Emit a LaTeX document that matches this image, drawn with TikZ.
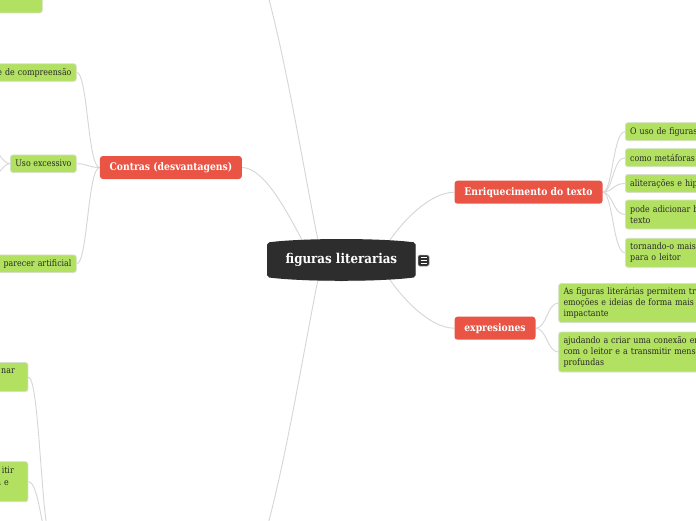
\documentclass[tikz,border=0pt]{standalone}
\usepackage{fontspec}
\newfontfamily\slabfont[FakeStretch=0.88]{DejaVu Serif}
\usetikzlibrary{calc, backgrounds}

\definecolor{hubgray}{RGB}{45,45,45}
\definecolor{branchred}{RGB}{233,84,68}
\definecolor{leafgreen}{RGB}{178,225,98}
\definecolor{leafedge}{RGB}{214,224,200}
\definecolor{leaftext}{RGB}{40,40,40}
\definecolor{linkgray}{RGB}{214,214,214}

\begin{document}
\begin{tikzpicture}[
    x=1pt, y=-1pt,
    hub_block/.style={rectangle, minimum width=148, minimum height=34.3, inner sep=0, text=white, font={\slabfont\bfseries\fontsize{13.5}{16}\selectfont}},
    branch_block/.style={rectangle, fill=branchred, rounded corners=3, minimum height=23, inner xsep=7.5, inner ysep=0, text=white, font={\slabfont\bfseries\fontsize{10.5}{12}\selectfont}},
    leaf_block/.style={rectangle, fill=leafgreen, draw=leafedge, line width=0.8, rounded corners=2.5, minimum height=17.5, inner xsep=4.8, inner ysep=0, text=leaftext, font={\slabfont\fontsize{9}{11.2}\selectfont}},
    icon_block/.style={rectangle, fill=hubgray, draw=black!40, line width=0.5, rounded corners=1.5, minimum size=11, inner sep=0},
    link_line/.style={draw=linkgray, line width=0.9}
]
\useasboundingbox (0,0) rectangle (696,520);
\clip (0,0) rectangle (696,520);

% Centre: figuras literarias
\node[hub_block] (hub) at (341.4,259.9) {figuras literarias};
\node[icon_block] (hub_icon) at (423.5,260.5) {};
\foreach \dy in {-2.6,0,2.6}
    \draw[white, line width=0.9] ([shift={(-3,\dy)}]hub_icon.center) -- ([shift={(3,\dy)}]hub_icon.center);

% Branches
\node[branch_block, minimum width=142] (contras) at (170.9,167.5) {Contras (desvantagens)};
\node[branch_block, minimum width=148] (enrich) at (528.5,192.2) {Enriquecimento do texto};
\node[branch_block, minimum width=81] (expr) at (495,328.2) {expresiones};

% Branches that lie outside the frame
\coordinate (top_branch) at (215,-120);
\coordinate (low_branch) at (215,640);
\coordinate (low_parent) at (53,545);

% Right: leaves of Enriquecimento do texto
\node[leaf_block, anchor=west, text width=150, align=left, minimum height=18] (enr_a) at (625,131.7) {O uso de figuras};
\node[leaf_block, anchor=west, text width=150, align=left, minimum height=18] (enr_b) at (625,157.7) {como metáforas};
\node[leaf_block, anchor=west, text width=150, align=left, minimum height=18] (enr_c) at (625,183.5) {aliterações e hip};
\node[leaf_block, anchor=west, text width=150, align=left, minimum height=29] (enr_d) at (625,214.5) {pode adicionar b\\texto};
\node[leaf_block, anchor=west, text width=150, align=left, minimum height=29] (enr_e) at (625,252.8) {tornando-o mais\\para o leitor};

% Right: leaves of expresiones
\node[leaf_block, anchor=west, text width=180, align=left, minimum height=39] (expr_a) at (558.3,303) {As figuras literárias permitem tra\\emoções e ideias de forma mais v\\impactante};
\node[leaf_block, anchor=west, text width=180, align=left, minimum height=40] (expr_b) at (558.3,352) {ajudando a criar uma conexão em\\com o leitor e a transmitir mensa\\profundas};

% Left: leaves of Contras
\node[leaf_block, anchor=east, text width=110, align=right] (comp_leaf) at (76.7,72.5) {e de compreensão};
\node[leaf_block, anchor=east] (uso_leaf) at (76.7,163.7) {Uso excessivo};
\node[leaf_block, anchor=east, text width=110, align=right] (art_leaf) at (76.7,263.7) {e parecer artificial};
\coordinate (uso_kid_a) at (-23,125);
\coordinate (uso_kid_b) at (-23,200);

% Left edge: cut-off leaves
\node[leaf_block, anchor=south east, minimum width=90, minimum height=30] (top_leaf) at (42.7,13.3) {};
\node[leaf_block, anchor=east, text width=80, align=right, minimum height=29] (low_leaf_a) at (28.3,377) {nar\rule{8.3pt}{0pt}\\\mbox{}};
\node[leaf_block, anchor=east, text width=80, align=right, minimum height=40] (low_leaf_b) at (28.3,481.7) {itir\rule{9.3pt}{0pt}\\a e\rule{14.3pt}{0pt}\\\mbox{}};

\begin{scope}[on background layer]
\fill[white] (0,0) rectangle (696,520);

% Connectors from the centre
\draw[link_line] ([xshift=-38]hub.north) .. controls +(-14,-26) and +(23,0) .. (contras.east);
\draw[link_line] ([xshift=-23]hub.north) .. controls +(-28,-141) and +(50,40) .. (top_branch);
\draw[link_line] ([xshift=-23]hub.south) .. controls +(-28,141) and +(50,-40) .. (low_branch);
\draw[link_line] ([xshift=47]hub.north) .. controls +(12,-19) and +(-25,0) .. (enrich.west);
\draw[link_line] ([xshift=47]hub.south) .. controls +(12,19) and +(-25,0) .. (expr.west);

% Connectors to leaves
\foreach \leaf in {comp_leaf, uso_leaf, art_leaf}
    \draw[link_line] (contras.west) .. controls +(-12,0) and +(11,0) .. (\leaf.east);
\foreach \leaf in {enr_a, enr_b, enr_c, enr_d, enr_e}
    \draw[link_line] (enrich.east) .. controls +(10,0) and +(-12,0) .. (\leaf.west);
\foreach \leaf in {expr_a, expr_b}
    \draw[link_line] (expr.east) .. controls +(11,0) and +(-11,0) .. (\leaf.west);
\foreach \kid in {uso_kid_a, uso_kid_b}
    \draw[link_line] (uso_leaf.west) .. controls +(-12,0) and +(11,0) .. (\kid);
\foreach \leaf in {low_leaf_a, low_leaf_b}
    \draw[link_line] (low_parent) .. controls +(-12,0) and +(12,0) .. (\leaf.east);

% Centre shape with bulged top and bottom
\fill[black!18] ([yshift=-1.2]hub.north west) .. controls ($(hub.north west)+(35,-4.6)$) and ($(hub.north east)+(-35,-4.6)$) .. ([yshift=-1.2]hub.north east)
    -- ([yshift=1.4]hub.south east) .. controls ($(hub.south east)+(-35,5.8)$) and ($(hub.south west)+(35,5.8)$) .. ([yshift=1.4]hub.south west) -- cycle;
\fill[hubgray, rounded corners=2] (hub.north west) .. controls ($(hub.north west)+(35,-4.6)$) and ($(hub.north east)+(-35,-4.6)$) .. (hub.north east)
    -- (hub.south east) .. controls ($(hub.south east)+(-35,4.6)$) and ($(hub.south west)+(35,4.6)$) .. (hub.south west) -- cycle;
\end{scope}

\end{tikzpicture}
\end{document}
